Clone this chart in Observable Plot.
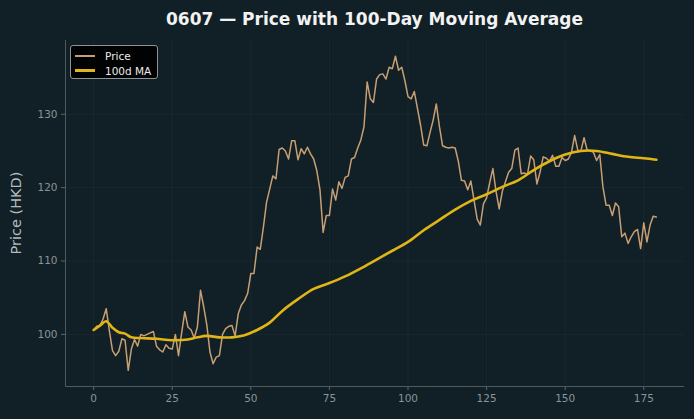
<!DOCTYPE html>
<html><head><meta charset="utf-8">
<script src="https://cdn.jsdelivr.net/npm/d3@7"></script>
<script src="https://cdn.jsdelivr.net/npm/@observablehq/plot@0.6"></script>
<style>
body{margin:0;background:#111f26;}
#wrap{position:relative;width:694px;height:419px;background:#111f26;font-family:"DejaVu Sans",sans-serif;overflow:hidden}
#title{height:37px;line-height:38px;text-align:center;padding-left:55px;color:#f2f2f2;font-weight:bold;font-size:17px;white-space:nowrap}
#ylabel{position:absolute;left:16px;top:213px;transform:translate(-50%,-50%) rotate(-90deg);color:#b3bbbf;font-size:14.5px;white-space:nowrap}
#legend{position:absolute;left:70px;top:45px;width:88px;height:34px;background:rgba(0,0,0,0.92);border:1px solid #8e9497;border-radius:3px;color:#ececec;font-size:10.5px;box-sizing:border-box;padding-top:2px}
#legend .row{display:flex;align-items:center;height:15px}
#legend .sw{display:inline-block;width:20px;margin-left:4px;margin-right:10px}
</style>
</head><body>
<div id="wrap">
  <div id="title">0607 — Price with 100-Day Moving Average</div>
  <div id="chart"></div>
  <div id="ylabel">Price (HKD)</div>
  <div id="legend">
    <div class="row"><span class="sw" style="background:#c89f73;height:2px"></span>Price</div>
    <div class="row"><span class="sw" style="background:#e0b517;height:3px"></span>100d MA</div>
  </div>
</div>
<script>
const price = [
100.6,101.1,101.2,102.1,103.5,100.5,97.8,97.1,97.7,99.4,
99.2,95.1,98.0,99.3,98.4,100.0,99.8,100.0,100.2,100.4,
98.4,97.9,97.6,98.6,98.1,98.0,100.0,97.1,100.2,103.1,
101.0,100.6,99.5,101.0,106.0,103.8,101.3,97.6,96.0,96.9,
97.1,100.0,100.8,101.1,101.2,99.8,102.8,104.0,104.6,105.6,
108.3,108.3,111.9,111.6,114.6,118.0,119.8,121.6,121.2,125.2,
125.4,125.0,123.9,126.4,126.4,123.8,125.3,124.6,125.5,124.6,
123.9,122.3,119.7,113.9,116.2,116.2,119.8,118.3,120.8,119.9,
121.4,121.6,123.9,124.1,125.4,126.5,128.3,134.4,132.1,131.6,
134.8,135.4,135.5,134.8,136.4,136.2,137.9,136.0,136.4,134.6,
132.4,132.1,133.1,130.8,128.5,125.8,125.7,127.5,129.2,131.4,
128.3,125.7,125.5,125.4,125.5,125.4,123.6,121.0,120.9,119.7,
120.9,118.3,115.7,114.9,117.8,118.6,120.7,122.6,119.5,117.1,
119.5,120.8,122.1,122.6,125.1,125.4,121.9,122.0,121.8,124.3,
123.8,120.5,122.1,124.2,124.0,123.6,124.4,122.9,122.9,124.1,
123.7,123.9,124.8,127.1,125.1,125.0,126.8,125.1,125.0,124.8,
123.7,124.5,120.1,117.6,117.6,116.2,117.9,117.4,113.3,113.8,
112.4,113.3,114.0,114.3,111.7,115.2,112.6,114.9,116.1,116.0
];
const maDays = [0,2,4,6,8,10,12,15,20,25,30,33,36,40,44,48,52,56,60,65,70,75,80,85,90,95,100,105,110,115,120,125,130,135,140,145,150,155,160,165,170,175,179];
const maValues = [100.6,101.2,101.8,100.9,100.3,100.1,99.6,99.5,99.4,99.2,99.3,99.6,99.8,99.6,99.6,99.9,100.6,101.6,103.2,104.8,106.2,107.0,107.9,109.0,110.2,111.4,112.6,114.2,115.6,117.0,118.2,119.1,120.1,121.0,122.4,123.6,124.5,125.0,125.0,124.6,124.2,124.0,123.8];
const xTicks = [0,25,50,75,100,125,150,175];
const yTicks = [100,110,120,130];

const priceData = price.map((v,i)=>({day:i, value:v}));
const maData = maDays.map((d,i)=>({day:d, value:maValues[i]}));

const xDom = [-8.95, 187.95];
const yDom = [92.9, 140.05];

const chart = Plot.plot({
  width: 694,
  height: 382,
  marginTop: 3,
  marginBottom: 33,
  marginLeft: 65,
  marginRight: 10,
  style: {background: "transparent", color: "#8a9599", fontFamily: "DejaVu Sans, sans-serif", fontSize: "10.5px"},
  x: {domain: xDom},
  y: {domain: yDom},
  marks: [
    Plot.gridX(xTicks, {stroke: "#2a3a41", strokeOpacity: 0.3}),
    Plot.gridY(yTicks, {stroke: "#2a3a41", strokeOpacity: 0.3}),
    Plot.axisX(xTicks, {tickSize: 4, tickPadding: 4, stroke: "#5d686c", fill: "#8a9599", label: null}),
    Plot.axisY(yTicks, {tickSize: 4, tickPadding: 4, stroke: "#5d686c", fill: "#8a9599", label: null}),
    Plot.ruleX([xDom[0]], {stroke: "#4f5a5e"}),
    Plot.ruleY([yDom[0]], {stroke: "#4f5a5e"}),
    Plot.lineY(priceData, {x: "day", y: "value", stroke: "#c89f73", strokeWidth: 1.5}),
    Plot.lineY(maData, {x: "day", y: "value", stroke: "#e0b517", strokeWidth: 2.6, curve: "catmull-rom"})
  ]
});
document.getElementById("chart").appendChild(chart);
</script>
</body></html>
